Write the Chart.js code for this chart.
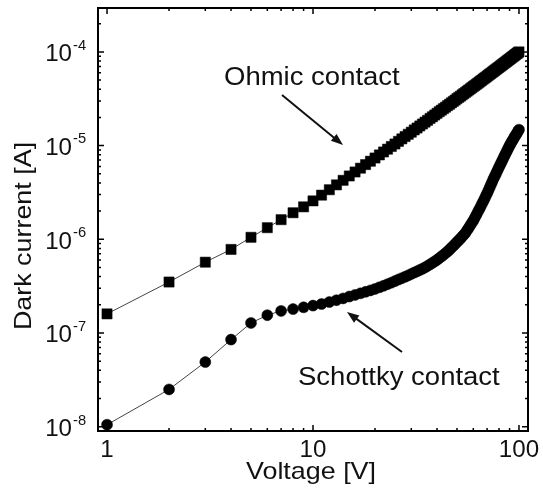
<!DOCTYPE html>
<html>
<head>
<meta charset="utf-8">
<script src="https://cdn.jsdelivr.net/npm/chart.js@4.4.1/dist/chart.umd.min.js"></script>
<style>
  html, body { margin: 0; padding: 0; background: #fff; }
  #wrap { width: 543px; height: 491px; }
</style>
</head>
<body>
<div id="wrap"><canvas id="ivChart" width="543" height="491"></canvas></div>
<script>
// data (V, A)
const voltage = [
  1, 2, 3, 4, 5, 6, 7, 8, 9, 10,
  11, 12, 13, 14, 15, 16, 17, 18, 19, 20,
  21, 22, 23, 24, 25, 26, 27, 28, 29, 30,
  31, 32, 33, 34, 35, 36, 37, 38, 39, 40,
  41, 42, 43, 44, 45, 46, 47, 48, 49, 50,
  51, 52, 53, 54, 55, 56, 57, 58, 59, 60,
  61, 62, 63, 64, 65, 66, 67, 68, 69, 70,
  71, 72, 73, 74, 75, 76, 77, 78, 79, 80,
  81, 82, 83, 84, 85, 86, 87, 88, 89, 90,
  91, 92, 93, 94, 95, 96, 97, 98, 99, 100
];
const ohmicCurrent = [
  1.6e-7, 3.5e-7, 5.7e-7, 7.8e-7, 1.05e-6, 1.33e-6, 1.62e-6, 1.92e-6, 2.22e-6, 2.57e-6,
  2.96e-6, 3.38e-6, 3.81e-6, 4.26e-6, 4.74e-6, 5.23e-6, 5.74e-6, 6.27e-6, 6.81e-6, 7.37e-6,
  7.95e-6, 8.55e-6, 9.16e-6, 9.79e-6, 1.04e-5, 1.11e-5, 1.18e-5, 1.25e-5, 1.32e-5, 1.39e-5,
  1.47e-5, 1.54e-5, 1.62e-5, 1.70e-5, 1.78e-5, 1.86e-5, 1.95e-5, 2.03e-5, 2.12e-5, 2.21e-5,
  2.30e-5, 2.39e-5, 2.48e-5, 2.57e-5, 2.67e-5, 2.76e-5, 2.86e-5, 2.96e-5, 3.06e-5, 3.17e-5,
  3.27e-5, 3.37e-5, 3.48e-5, 3.59e-5, 3.70e-5, 3.81e-5, 3.92e-5, 4.03e-5, 4.15e-5, 4.27e-5,
  4.38e-5, 4.50e-5, 4.62e-5, 4.74e-5, 4.87e-5, 4.99e-5, 5.12e-5, 5.25e-5, 5.37e-5, 5.50e-5,
  5.64e-5, 5.77e-5, 5.90e-5, 6.04e-5, 6.17e-5, 6.31e-5, 6.45e-5, 6.59e-5, 6.73e-5, 6.87e-5,
  7.02e-5, 7.16e-5, 7.31e-5, 7.46e-5, 7.61e-5, 7.76e-5, 7.91e-5, 8.06e-5, 8.22e-5, 8.37e-5,
  8.53e-5, 8.69e-5, 8.85e-5, 9.01e-5, 9.17e-5, 9.34e-5, 9.50e-5, 9.67e-5, 9.83e-5, 1.0e-4
];
const schottkyCurrent = [
  1.05e-8, 2.5e-8, 4.9e-8, 8.5e-8, 1.28e-7, 1.55e-7, 1.72e-7, 1.8e-7, 1.88e-7, 1.96e-7,
  2.04e-7, 2.14e-7, 2.24e-7, 2.34e-7, 2.45e-7, 2.55e-7, 2.65e-7, 2.75e-7, 2.85e-7, 2.95e-7,
  3.07e-7, 3.19e-7, 3.32e-7, 3.44e-7, 3.58e-7, 3.72e-7, 3.85e-7, 3.98e-7, 4.12e-7, 4.27e-7,
  4.41e-7, 4.55e-7, 4.70e-7, 4.85e-7, 5.01e-7, 5.20e-7, 5.40e-7, 5.60e-7, 5.81e-7, 6.03e-7,
  6.28e-7, 6.55e-7, 6.82e-7, 7.11e-7, 7.41e-7, 7.76e-7, 8.13e-7, 8.51e-7, 8.91e-7, 9.33e-7,
  9.77e-7, 1.02e-6, 1.07e-6, 1.12e-6, 1.17e-6, 1.25e-6, 1.32e-6, 1.41e-6, 1.49e-6, 1.58e-6,
  1.69e-6, 1.81e-6, 1.94e-6, 2.07e-6, 2.21e-6, 2.37e-6, 2.53e-6, 2.70e-6, 2.89e-6, 3.09e-6,
  3.31e-6, 3.55e-6, 3.80e-6, 4.07e-6, 4.37e-6, 4.63e-6, 4.92e-6, 5.22e-6, 5.55e-6, 5.89e-6,
  6.22e-6, 6.58e-6, 6.95e-6, 7.34e-6, 7.76e-6, 8.17e-6, 8.59e-6, 9.04e-6, 9.51e-6, 1.0e-5,
  1.04e-5, 1.09e-5, 1.13e-5, 1.18e-5, 1.23e-5, 1.28e-5, 1.32e-5, 1.37e-5, 1.43e-5, 1.48e-5
];
const xTicks = [1, 10, 100];
const xTickLabels = ['1', '10', '100'];
const yTicks = [1e-8, 1e-7, 1e-6, 1e-5, 1e-4];
const yTickExponents = ['-8', '-7', '-6', '-5', '-4'];

const FONT = '"Liberation Sans", Arial, Helvetica, sans-serif';

function toPoints(xs, ys) {
  return xs.map((v, i) => ({ x: v, y: ys[i] }));
}

// text with a little horizontal stretch, like the scanned figure
function stretchedText(ctx, text, x, y, size, align, sx, angle) {
  ctx.save();
  ctx.translate(x, y);
  if (angle) ctx.rotate(angle);
  ctx.scale(sx, 1);
  ctx.font = size + 'px ' + FONT;
  ctx.fillStyle = '#111';
  ctx.textAlign = align;
  ctx.textBaseline = 'middle';
  ctx.fillText(text, 0, 0);
  ctx.restore();
}

function arrow(ctx, x0, y0, x1, y1) {
  const ang = Math.atan2(y1 - y0, x1 - x0);
  const len = 12, half = 4.5;
  ctx.save();
  ctx.strokeStyle = '#111';
  ctx.fillStyle = '#111';
  ctx.lineWidth = 2;
  ctx.beginPath();
  ctx.moveTo(x0, y0);
  ctx.lineTo(x1 - len * 0.8 * Math.cos(ang), y1 - len * 0.8 * Math.sin(ang));
  ctx.stroke();
  ctx.beginPath();
  ctx.moveTo(x1, y1);
  ctx.lineTo(x1 - len * Math.cos(ang) + half * Math.sin(ang), y1 - len * Math.sin(ang) - half * Math.cos(ang));
  ctx.lineTo(x1 - len * Math.cos(ang) - half * Math.sin(ang), y1 - len * Math.sin(ang) + half * Math.cos(ang));
  ctx.closePath();
  ctx.fill();
  ctx.restore();
}

function logMinors(min, max) {
  const out = [];
  for (let d = Math.floor(Math.log10(min)); d <= Math.ceil(Math.log10(max)); d++) {
    for (let m = 2; m <= 9; m++) {
      const v = m * Math.pow(10, d);
      if (v > min && v < max) out.push(v);
    }
  }
  return out;
}

const framePlugin = {
  id: 'framePlugin',
  afterDraw(chart) {
    const { ctx, chartArea: a, scales: { x, y } } = chart;
    ctx.save();
    ctx.strokeStyle = '#000';

    // inward ticks on all four sides
    ctx.lineWidth = 1.5;
    ctx.beginPath();
    const tickX = (v, len) => {
      const px = x.getPixelForValue(v);
      ctx.moveTo(px, a.bottom); ctx.lineTo(px, a.bottom - len);
      ctx.moveTo(px, a.top); ctx.lineTo(px, a.top + len);
    };
    const tickY = (v, len) => {
      const py = y.getPixelForValue(v);
      ctx.moveTo(a.left, py); ctx.lineTo(a.left + len, py);
      ctx.moveTo(a.right, py); ctx.lineTo(a.right - len, py);
    };
    xTicks.forEach(v => tickX(v, 6));
    logMinors(x.min, x.max).forEach(v => tickX(v, 3));
    yTicks.forEach(v => tickY(v, 6));
    logMinors(y.min, y.max).forEach(v => tickY(v, 3));
    ctx.stroke();

    // frame
    ctx.lineWidth = 2;
    ctx.strokeRect(a.left, a.top, a.right - a.left, a.bottom - a.top);
    ctx.restore();

    // tick labels
    xTicks.forEach((v, i) => {
      stretchedText(ctx, xTickLabels[i], x.getPixelForValue(v), a.bottom + 20, 23, 'center', 1.05);
    });
    yTicks.forEach((v, i) => {
      const py = y.getPixelForValue(v);
      stretchedText(ctx, '10', 72, py + 3, 23, 'right', 1.05);
      stretchedText(ctx, yTickExponents[i], 73, py - 6, 14, 'left', 1.05);
    });

    // axis titles
    stretchedText(ctx, 'Voltage [V]', 311, 472, 24, 'center', 1.12);
    stretchedText(ctx, 'Dark current [A]', 24, 236, 24, 'center', 1.12, -Math.PI / 2);

    // annotations
    stretchedText(ctx, 'Ohmic contact', 224, 78, 25, 'left', 1.1);
    arrow(ctx, 282, 95, 343, 145);
    stretchedText(ctx, 'Schottky contact', 298, 378, 25, 'left', 1.1);
    arrow(ctx, 402, 352, 347, 312);
  }
};

const chart = new Chart(document.getElementById('ivChart').getContext('2d'), {
  type: 'scatter',
  data: {
    datasets: [
      {
        label: 'Ohmic contact',
        data: toPoints(voltage, ohmicCurrent),
        showLine: true,
        borderColor: '#444',
        borderWidth: 1,
        pointStyle: 'rect',
        pointRadius: 7.2,
        pointBackgroundColor: '#000',
        pointBorderColor: '#000',
        pointBorderWidth: 0.5
      },
      {
        label: 'Schottky contact',
        data: toPoints(voltage, schottkyCurrent),
        showLine: true,
        borderColor: '#444',
        borderWidth: 1,
        pointStyle: 'circle',
        pointRadius: 5.5,
        pointBackgroundColor: '#000',
        pointBorderColor: '#000',
        pointBorderWidth: 0.5
      }
    ]
  },
  options: {
    responsive: false,
    animation: false,
    devicePixelRatio: 1,
    layout: { padding: { left: 98, top: 8, right: 15, bottom: 60 } },
    plugins: { legend: { display: false }, tooltip: { enabled: false } },
    scales: {
      x: { type: 'logarithmic', min: 0.904, max: 110.6, display: false },
      y: { type: 'logarithmic', min: 0.93e-8, max: 2.94e-4, display: false }
    }
  },
  plugins: [framePlugin]
});
</script>
</body>
</html>
